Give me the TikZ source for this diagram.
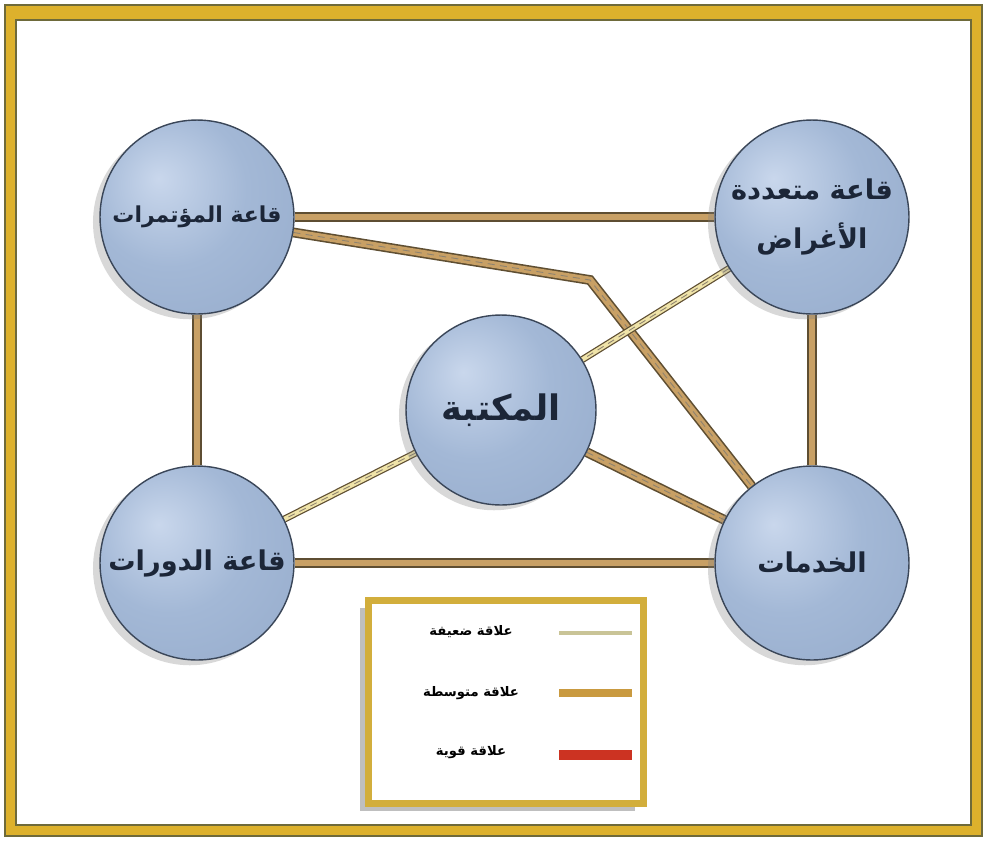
\documentclass[tikz,border=0pt]{standalone}
\usepackage{fontspec}
\newfontfamily\arabicfont[Script=Arabic]{DejaVu Sans}
\TeXXeTstate=1
\usetikzlibrary{shadows}

\definecolor{framegold}{HTML}{DDB12C}
\definecolor{frameline}{HTML}{6E6A3A}
\definecolor{keygold}{HTML}{D2AE3C}
\definecolor{ballhigh}{HTML}{C9D7EC}
\definecolor{ballblue}{HTML}{A3B8D6}
\definecolor{balldark}{HTML}{6E86AC}
\definecolor{balledge}{HTML}{3A4658}
\definecolor{textnavy}{HTML}{1C2638}
\definecolor{linkdark}{HTML}{5E4E32}
\definecolor{linktan}{HTML}{C8A065}
\definecolor{weakfill}{HTML}{EFE3A8}
\definecolor{weakkey}{HTML}{C9C497}
\definecolor{midkey}{HTML}{C99A40}
\definecolor{strongkey}{HTML}{CC3322}

\pgfdeclareradialshading{salleboule}{\pgfpoint{-10bp}{10bp}}{%
  color(0bp)=(ballhigh); color(20bp)=(ballblue); color(38bp)=(ballblue!80!balldark);
  color(55bp)=(balldark); color(70bp)=(balldark)}

\pgfdeclarelayer{cadre}
\pgfdeclarelayer{liens}
\pgfsetlayers{cadre,liens,main}

\begin{document}
\begin{tikzpicture}[x=0.02cm, y=-0.02cm,
    salle/.style={circle, draw=balledge, line width=0.8pt, minimum size=3.88cm, inner sep=1pt,
      shading=salleboule, drop shadow={shadow xshift=-4pt, shadow yshift=-3pt, opacity=0.3},
      text=textnavy, align=center, font=\arabicfont\bfseries\fontsize{15.5}{28}\selectfont},
    moyenne/.style={draw=linkdark, line width=5.6pt, postaction={draw=linktan, line width=3.8pt}},
    faible/.style={draw=linkdark, line width=4pt, postaction={draw=weakfill, line width=2.6pt}},
    couture/.style={postaction={draw=linkdark!70, line width=0.5pt, dash pattern=on 4pt off 3pt}},
    texte cle/.style={text=black, font=\arabicfont\bfseries\fontsize{7.5}{10}\selectfont},
  ]
    \useasboundingbox (0,0) rectangle (987,840);

    % Le cadre
    \begin{pgfonlayer}{cadre}
        \fill[white] (0,0) rectangle (987,840);
        \filldraw[fill=framegold, draw=frameline, line width=0.6pt] (5,5) rectangle (982,836);
        \filldraw[fill=white, draw=frameline, line width=0.8pt] (16,20) rectangle (971,825);
    \end{pgfonlayer}

    % Les salles
    \node[salle, font=\arabicfont\bfseries\fontsize{12.5}{16}\selectfont] (conf) at (197,217) {\beginR قاعة المؤتمرات\endR};
    \node[salle] (multi) at (812,217) {\beginR قاعة متعددة\endR\\\beginR الأغراض\endR};
    \node[salle, minimum size=3.8cm, font=\arabicfont\bfseries\fontsize{20}{24}\selectfont] (lib) at (501,410) {\beginR المكتبة\endR};
    \node[salle] (cours) at (197,563) {\beginR قاعة الدورات\endR};
    \node[salle] (serv) at (812,563) {\beginR الخدمات\endR};

    % Les liens entre les salles
    \coordinate (coude) at (590,280);
    \begin{pgfonlayer}{liens}
        \draw[moyenne] (conf) -- (multi);
        \draw[moyenne, couture] (conf) -- (coude) -- (serv);
        \draw[faible, couture] (multi) -- (lib);
        \draw[faible, couture] (lib) -- (cours);
        \draw[moyenne, couture] (lib) -- (serv);
        \draw[moyenne] (conf) -- (cours);
        \draw[moyenne] (multi) -- (serv);
        \draw[moyenne] (cours) -- (serv);
    \end{pgfonlayer}

    % La légende
    \node[draw=keygold, line width=4.5pt, fill=white, minimum width=5.5cm, minimum height=4.06cm,
      drop shadow={shadow xshift=-5pt, shadow yshift=-4pt, opacity=0.5}] (cle) at (506,702) {};
    \node[texte cle] (tfaible) at (471,632) {\beginR علاقة ضعيفة\endR};
    \node[texte cle] (tmoyenne) at (471,693) {\beginR علاقة متوسطة\endR};
    \node[texte cle] (tforte) at (471,752) {\beginR علاقة قوية\endR};
    \draw[weakkey, line width=2.2pt] (559,633) -- (632,633);
    \draw[midkey, line width=5pt] (559,693) -- (632,693);
    \draw[strongkey, line width=5.5pt] (559,755) -- (632,755);

\end{tikzpicture}
\end{document}
